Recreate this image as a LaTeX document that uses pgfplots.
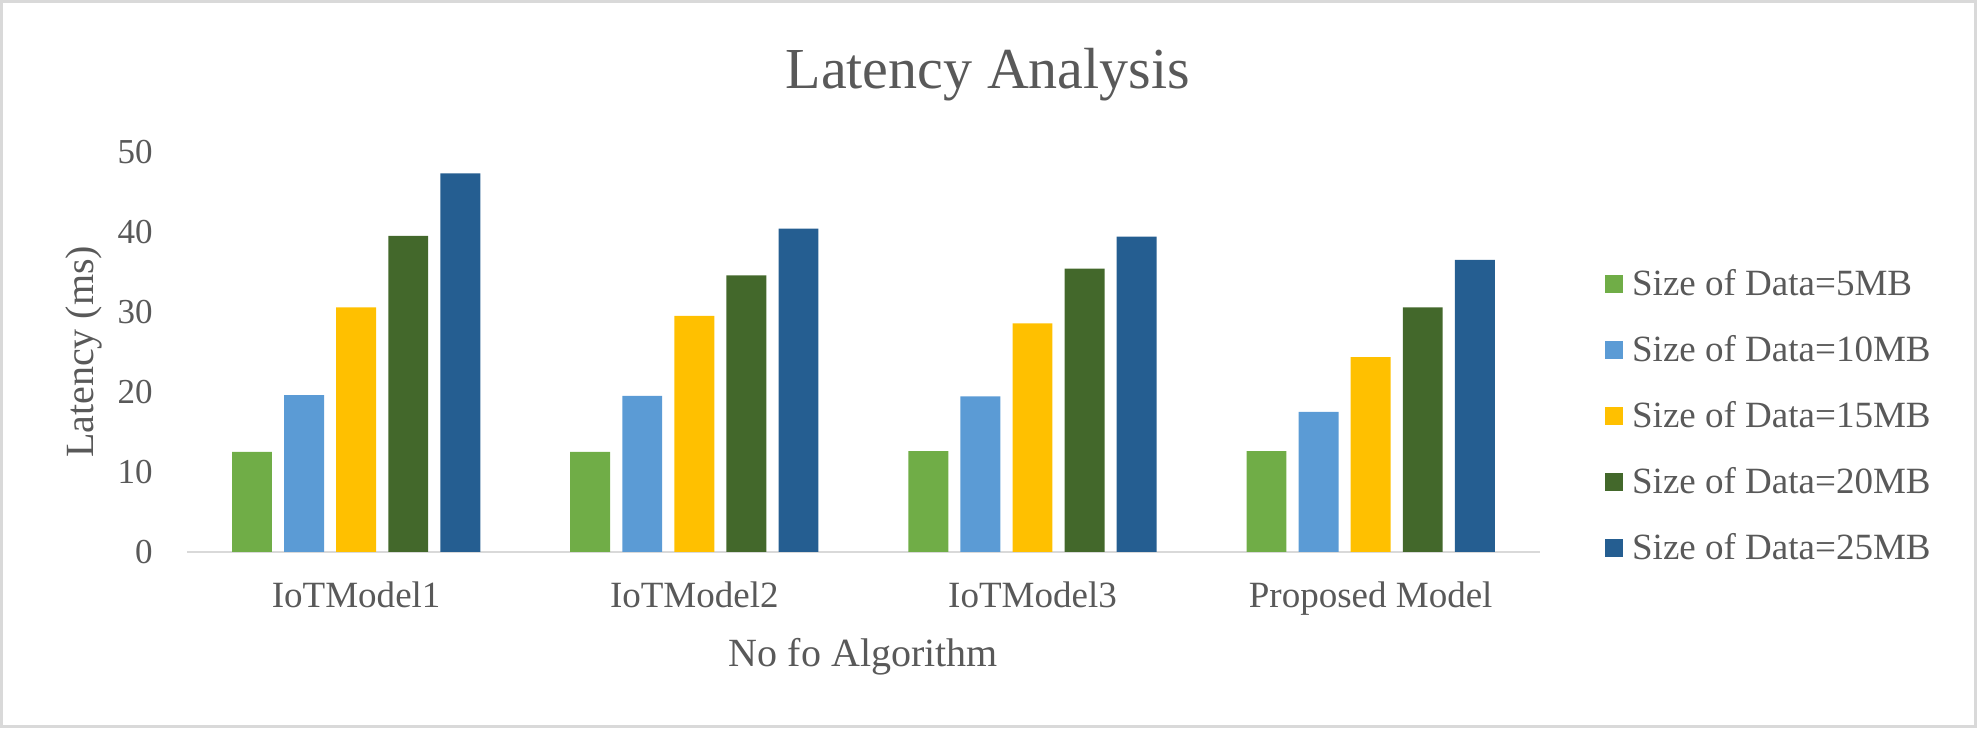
\documentclass[border=0pt]{standalone}
\usepackage{fontspec}
\setmainfont{Liberation Serif}
\usepackage{pgfplots}
\pgfplotsset{compat=1.18}
\usepackage{pgfplotstable}
\definecolor{cA}{HTML}{70AD47}
\definecolor{cB}{HTML}{5B9BD5}
\definecolor{cC}{HTML}{FFC000}
\definecolor{cD}{HTML}{43682B}
\definecolor{cE}{HTML}{255E91}
\definecolor{txt}{HTML}{595959}
\definecolor{axgray}{HTML}{D9D9D9}
\pgfplotstableread{
x s5 s10 s15 s20 s25
0 12.5 19.6 30.55 39.5 47.3
1 12.5 19.5 29.5 34.55 40.4
2 12.6 19.45 28.55 35.4 39.4
3 12.6 17.5 24.35 30.55 36.5
}\datatable
\begin{document}
\begin{tikzpicture}
\path[use as bounding box] (-93.5pt,-88.15pt) rectangle (894.5pt,275.85pt);
\draw[axgray, line width=1.5pt] (-92.75pt,-87.4pt) rectangle (893.75pt,275.1pt);
\begin{axis}[
  at={(0,0)}, anchor=south west,
  scale only axis,
  width=676pt, height=200pt,
  ybar,
  bar width=0.118,
  xmin=-0.5, xmax=3.5,
  ymin=0, ymax=50,
  xtick=data,
  xticklabels={IoTModel1,IoTModel2,IoTModel3,Proposed Model},
  ytick={0,10,20,30,40,50},
  axis lines*=left,
  x axis line style={axgray, line width=1.15pt, -},
  y axis line style={draw=none},
  tick style={draw=none},
  major tick length=0pt,
  /pgf/number format/assume math mode=true,
  ticklabel style={text=txt},
  yticklabel style={font=\fontsize{17.5}{18}\selectfont, anchor=east, inner sep=0pt, xshift=-17pt},
  xticklabel style={font=\fontsize{18.5}{19}\selectfont, anchor=base, inner sep=0pt, yshift=-27.5pt},
  title={Latency Analysis},
  title style={at={(axis description cs:0.592,1.159)}, anchor=base, yshift=-6pt, font=\fontsize{29}{30}\selectfont, text=txt, inner sep=0pt},
  xlabel={No fo Algorithm},
  xlabel style={at={(axis description cs:0.5,-0.2858)}, anchor=base, font=\fontsize{20}{21}\selectfont, text=txt, inner sep=0pt},
  ylabel={Latency (ms)},
  ylabel style={at={(axis description cs:-0.0695,0.5)}, anchor=base, font=\fontsize{20}{21}\selectfont, text=txt, inner sep=0pt},
  legend image code/.code={\fill[#1] (0pt,1.3pt) rectangle (9.3pt,10.6pt);},
  legend cell align=left,
  legend style={at={(axis description cs:1.0481,0.705)}, anchor=north west,
    draw=none, fill=none, inner sep=0pt, outer sep=0pt,
    font=\fontsize{18.5}{19}\selectfont, text=txt,
    row sep=16pt, column sep=4.35pt,
    nodes={inner sep=0pt, text height=13pt, text depth=4pt, anchor=base west}},
]
\addplot[fill=cA, draw=none, bar shift=-0.308] table[x=x, y=s5] {\datatable};
\addplot[fill=cB, draw=none, bar shift=-0.154] table[x=x, y=s10] {\datatable};
\addplot[fill=cC, draw=none, bar shift=0] table[x=x, y=s15] {\datatable};
\addplot[fill=cD, draw=none, bar shift=0.154] table[x=x, y=s20] {\datatable};
\addplot[fill=cE, draw=none, bar shift=0.308] table[x=x, y=s25] {\datatable};
\legend{Size of Data=5MB, Size of Data=10MB, Size of Data=15MB, Size of Data=20MB, Size of Data=25MB}
\end{axis}
\end{tikzpicture}
\end{document}
